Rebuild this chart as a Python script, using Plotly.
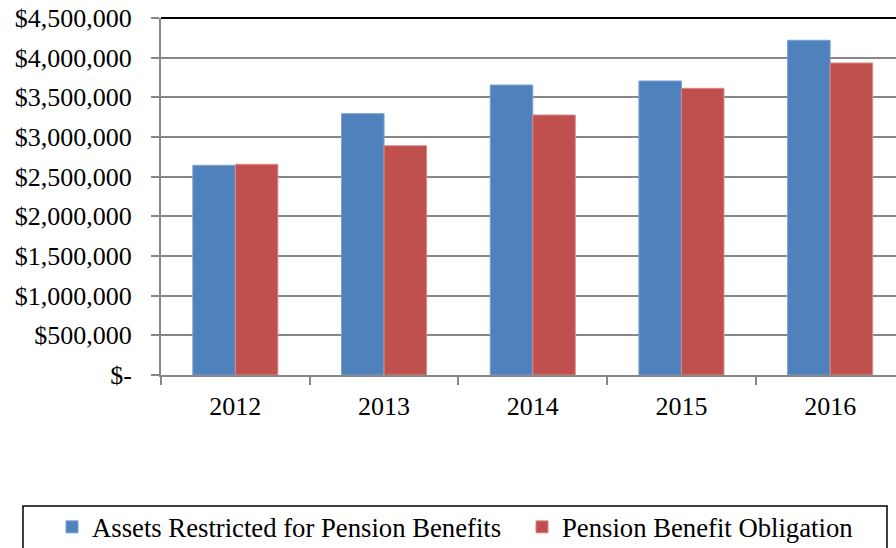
import plotly.graph_objects as go

years = ["2012", "2013", "2014", "2015", "2016"]
assets = [2643000, 3294000, 3655000, 3706000, 4219000]
obligation = [2656000, 2890000, 3277000, 3614000, 3933000]
series_names = ["Assets Restricted for Pension Benefits", "Pension Benefit Obligation"]
y_tickvals = [0, 500000, 1000000, 1500000, 2000000, 2500000, 3000000, 3500000, 4000000, 4500000]
y_ticktext = ["$-", "$500,000", "$1,000,000", "$1,500,000", "$2,000,000", "$2,500,000",
              "$3,000,000", "$3,500,000", "$4,000,000", "$4,500,000"]

FONT = "Liberation Serif, Times New Roman, serif"
FS = 26
FS_LEG = 26.7
W, H = 896, 548
L, R, T, B = 161, 0, 18, 173
pw = W - L - R
ph = H - T - B

def px_x(p):
    return (p - L) / pw

def px_y(p):
    return (H - B - p) / ph

fig = go.Figure()
fig.add_trace(go.Bar(x=years, y=assets, name=series_names[0], legend="legend",
                     marker=dict(color="#4F81BD", line=dict(color="#7AA0D0", width=1))))
fig.add_trace(go.Bar(x=years, y=obligation, name=series_names[1], legend="legend2",
                     marker=dict(color="#C0504D", line=dict(color="#D98A88", width=1))))

cat_w = 148.7
x_max = -0.5 + pw / cat_w

leg_common = dict(orientation="h", xanchor="left", yanchor="middle",
                  font=dict(family=FONT, size=FS_LEG, color="black"),
                  bgcolor="rgba(0,0,0,0)", borderwidth=0,
                  itemclick=False, itemdoubleclick=False)

fig.update_layout(
    width=W, height=H,
    margin=dict(l=L, r=R, t=T, b=B, pad=0, autoexpand=False),
    paper_bgcolor="white", plot_bgcolor="white",
    font=dict(family=FONT, size=FS, color="black"),
    barmode="group", bargap=0.428, bargroupgap=0,
    showlegend=True,
    legend=dict(x=px_x(52), y=px_y(527), **leg_common),
    legend2=dict(x=px_x(522), y=px_y(527), **leg_common),
    xaxis=dict(type="category", range=[-0.5, x_max], showgrid=False, automargin=False,
               showline=True, linecolor="#878787", linewidth=2,
               ticks="outside", ticklen=8, tickwidth=2, tickcolor="#878787",
               tickson="boundaries", ticklabelstandoff=7,
               tickfont=dict(family=FONT, size=FS, color="black")),
    yaxis=dict(range=[0, 4500000], tickmode="array", tickvals=y_tickvals, ticktext=y_ticktext,
               showgrid=True, gridcolor="#878787", gridwidth=2, automargin=False,
               showline=True, linecolor="#878787", linewidth=2,
               ticks="outside", ticklen=8, tickwidth=2, tickcolor="#878787",
               ticklabelstandoff=14, zeroline=False,
               tickfont=dict(family=FONT, size=FS, color="black")),
    shapes=[
        dict(type="line", xref="paper", yref="paper", x0=0, x1=1, y0=1, y1=1,
             line=dict(color="black", width=2)),
        dict(type="rect", xref="paper", yref="paper", x0=px_x(23), x1=px_x(887),
             y0=px_y(506), y1=px_y(565), line=dict(color="black", width=1.5),
             fillcolor="rgba(0,0,0,0)"),
    ],
)

fig.write_html("out.html", config={"displayModeBar": False, "staticPlot": True},
               post_script="document.body.style.margin='0';document.body.style.padding='0';")
